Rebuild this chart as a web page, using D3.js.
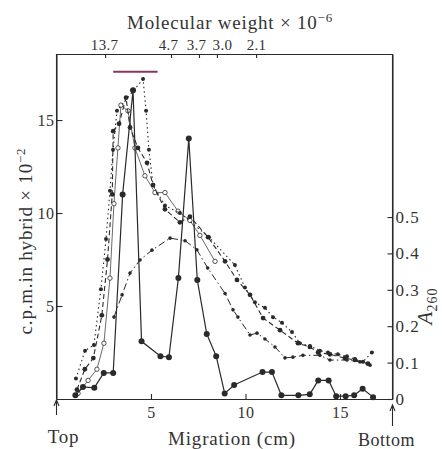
<!DOCTYPE html>
<html>
<head>
<meta charset="utf-8">
<script src="https://cdn.jsdelivr.net/npm/d3@7"></script>
<style>
  body { margin: 0; background: #fff; }
  text { font-family: "Liberation Serif", "DejaVu Serif", serif; fill: #333; }
</style>
</head>
<body>
<div id="wrapper"></div>
<script>
// migration (cm), c.p.m. in hybrid x 10^-2
const hybridSolid = [
  [1.0, 0.2], [1.4, 0.65], [2.0, 0.6], [2.5, 1.4], [3.0, 1.4], [3.5, 11.0],
  [4.05, 16.6], [4.5, 3.1], [5.5, 2.3], [5.95, 2.25], [6.45, 6.5], [7.0, 14.0],
  [7.45, 6.4], [7.95, 3.5], [8.45, 2.3], [8.9, 0.3], [9.4, 0.75], [10.9, 1.45],
  [11.4, 1.45], [11.9, 0.2], [12.8, 0.2], [13.4, 0.25], [13.85, 1.0], [14.4, 1.0],
  [14.8, 0.15], [15.3, 0.15], [15.75, 0.2], [16.2, 0.55], [16.75, 0.1]
];
const hybridDashed = [
  [1.08, 0.5], [1.5, 1.6], [1.95, 2.2], [2.4, 4.5], [2.7, 7.5], [2.95, 11.0],
  [3.0, 14.4], [3.31, 14.8], [3.68, 16.2], [3.89, 14.6], [4.31, 13.5], [4.79, 12.7],
  [5.11, 11.5], [5.74, 10.2], [6.53, 9.5], [7.06, 9.8], [8.02, 8.7], [8.92, 7.4],
  [9.55, 6.4], [10.24, 5.6], [10.93, 4.35], [11.83, 3.7], [12.78, 3.0], [13.41, 2.8],
  [13.84, 2.5], [14.47, 2.4], [15.26, 2.2], [15.79, 2.1], [16.48, 1.9]
];
const hybridDotted = [
  [1.03, 1.1], [1.51, 2.6], [1.98, 2.9], [2.35, 5.9], [2.62, 8.6], [2.83, 11.2],
  [2.99, 13.4], [3.2, 15.5], [4.58, 17.2], [4.74, 15.5], [4.89, 13.4], [5.11, 11.5],
  [5.74, 10.4], [6.53, 10.0], [8.07, 8.7], [9.44, 7.2], [9.97, 6.0], [10.5, 5.2],
  [11.03, 4.9], [11.46, 4.4], [11.93, 4.1], [12.46, 3.6], [12.88, 3.0], [13.41, 2.85],
  [13.94, 2.6], [14.37, 2.5], [14.89, 2.4], [15.37, 2.3], [15.79, 2.15], [16.22, 2.0],
  [16.69, 2.5]
];
const hybridOpen = [
  [1.14, 0.3], [1.67, 1.0], [2.14, 1.6], [2.51, 3.0], [2.83, 6.5], [3.04, 10.5],
  [3.25, 13.5], [3.41, 15.8], [3.78, 15.5], [4.15, 13.5], [4.68, 12.0], [5.21, 11.1],
  [5.74, 11.1], [6.43, 10.1], [7.06, 9.6], [7.59, 8.8], [8.39, 7.4]
];
// migration (cm), A260
const absorbance = [
  [3.04, 0.225], [3.47, 0.286], [3.89, 0.346], [4.42, 0.382], [5.05, 0.409],
  [6.01, 0.442], [6.8, 0.435], [7.43, 0.41], [8.0, 0.36], [8.92, 0.29],
  [9.34, 0.245], [9.6, 0.225], [10.24, 0.176], [10.61, 0.181], [11.03, 0.165],
  [11.56, 0.143], [12.09, 0.113], [12.51, 0.115], [13.04, 0.12], [13.94, 0.12],
  [14.47, 0.107], [15.37, 0.107], [16.06, 0.102], [16.59, 0.093]
];

const xTicks = [5, 10, 15];
const leftTicks = [5, 10, 15];
const rightTicks = [0, 0.1, 0.2, 0.3, 0.4, 0.5];
const mwPositions = [2.57, 6.06, 7.54, 8.49, 10.56];
const mwLabels = ["13.7", "4.7", "3.7", "3.0", "2.1"];
const poolRange = [3.0, 5.35];
const poolLevel = 17.6;

const dimensions = {
  width: 442,
  height: 449,
  margin: { top: 54, right: 49.5, bottom: 50, left: 56.5 },
};
dimensions.boundedWidth = dimensions.width - dimensions.margin.left - dimensions.margin.right;
dimensions.boundedHeight = dimensions.height - dimensions.margin.top - dimensions.margin.bottom;

const wrapper = d3.select("#wrapper").append("svg")
  .attr("width", dimensions.width)
  .attr("height", dimensions.height);

const bounds = wrapper.append("g")
  .attr("transform", `translate(${dimensions.margin.left},${dimensions.margin.top})`);

const xScale = d3.scaleLinear().domain([0, 17.78]).range([0, dimensions.boundedWidth]);
const yScale = d3.scaleLinear().domain([0, 18.55]).range([dimensions.boundedHeight, 0]);
const aScale = d3.scaleLinear().domain([0, 0.948]).range([dimensions.boundedHeight, 0]);

const ink = "#2a2a2a";

// axes
const styleAxis = (size, spacing) => (g) => {
  g.selectAll("path, line").attr("stroke", ink).attr("stroke-width", 1.1);
  g.selectAll("text")
    .style("font-family", '"Liberation Serif", serif')
    .attr("fill", "#333")
    .attr("font-size", size)
    .attr("letter-spacing", spacing);
};

bounds.append("g")
  .attr("transform", `translate(0,${dimensions.boundedHeight})`)
  .call(d3.axisBottom(xScale).tickValues(xTicks).tickSizeInner(-5).tickSizeOuter(0).tickPadding(8))
  .call(styleAxis(16, 0.5));

bounds.append("g")
  .call(d3.axisLeft(yScale).tickValues(leftTicks).tickSizeInner(-6).tickSizeOuter(0).tickPadding(2))
  .call(styleAxis(16, 0.5));

bounds.append("g")
  .attr("transform", `translate(${dimensions.boundedWidth},0)`)
  .call(d3.axisRight(aScale).tickValues(rightTicks).tickSizeInner(-5).tickSizeOuter(0).tickPadding(3)
    .tickFormat((d) => (d === 0 ? "0" : d3.format(".1f")(d))))
  .call(styleAxis(17, 1));

// crowded molecular-weight labels are nudged apart a little, as in print
const mwNudge = [-1, -3, -3, 5, 0];
bounds.append("g")
  .call(d3.axisTop(xScale).tickValues(mwPositions).tickSizeInner(-4).tickSizeOuter(0).tickPadding(4)
    .tickFormat((d, i) => mwLabels[i]))
  .call(styleAxis(15, 0.3))
  .call((g) => g.selectAll("text").attr("dx", (d, i) => mwNudge[i]));

// the left/right axis lines run up to the top border
bounds.append("line")
  .attr("x1", 0).attr("x2", 0).attr("y1", 0).attr("y2", dimensions.boundedHeight)
  .attr("stroke", ink).attr("stroke-width", 1.1);
bounds.append("line")
  .attr("x1", dimensions.boundedWidth).attr("x2", dimensions.boundedWidth)
  .attr("y1", 0).attr("y2", dimensions.boundedHeight)
  .attr("stroke", ink).attr("stroke-width", 1.1);

// pooled fraction bar
bounds.append("line")
  .attr("x1", xScale(poolRange[0])).attr("x2", xScale(poolRange[1]))
  .attr("y1", yScale(poolLevel)).attr("y2", yScale(poolLevel))
  .attr("stroke", "#8a3560").attr("stroke-width", 2);

// series
const lineCpm = d3.line().x((d) => xScale(d[0])).y((d) => yScale(d[1]));
const lineA = d3.line().x((d) => xScale(d[0])).y((d) => aScale(d[1]));

const drawSeries = (data, gen, yS, dash, width, r, fill) => {
  const g = bounds.append("g");
  g.append("path")
    .attr("d", gen(data))
    .attr("fill", "none")
    .attr("stroke", ink)
    .attr("stroke-width", width)
    .attr("stroke-dasharray", dash);
  g.selectAll("circle").data(data).join("circle")
    .attr("cx", (d) => xScale(d[0]))
    .attr("cy", (d) => yS(d[1]))
    .attr("r", r)
    .attr("fill", fill)
    .attr("stroke", ink)
    .attr("stroke-width", fill === "#fff" ? 0.8 : 0);
};

drawSeries(absorbance, lineA, aScale, "7,3,1.5,3", 1.0, 1.8, ink);
drawSeries(hybridOpen, lineCpm, yScale, null, 0.7, 2.2, "#fff");
drawSeries(hybridDotted, lineCpm, yScale, "1.5,3", 1.1, 2.0, ink);
drawSeries(hybridDashed, lineCpm, yScale, "5,3", 1.1, 2.4, ink);
drawSeries(hybridSolid, lineCpm, yScale, null, 1.2, 3.0, ink);

// labels
const title = wrapper.append("text")
  .attr("x", 230).attr("y", 29)
  .attr("text-anchor", "middle").attr("font-size", 19).attr("letter-spacing", 0.8)
  .text("Molecular weight × 10");
title.append("tspan").attr("dy", -7).attr("font-size", 13).text("−6");

const leftLabel = wrapper.append("text")
  .attr("transform", "translate(32,241) rotate(-90)")
  .attr("text-anchor", "middle").attr("font-size", 19).attr("letter-spacing", 0.8)
  .text("c.p.m.in hybrid × 10");
leftLabel.append("tspan").attr("dy", -7).attr("font-size", 13).text("−2");

const rightLabel = wrapper.append("text")
  .attr("transform", "translate(432,306) rotate(-90)")
  .attr("text-anchor", "middle").attr("font-size", 21);
rightLabel.append("tspan").attr("font-style", "italic").text("A");
rightLabel.append("tspan").attr("dy", 5).attr("font-size", 14).attr("letter-spacing", 1).text("260");

wrapper.append("text")
  .attr("x", 232).attr("y", 445)
  .attr("text-anchor", "middle").attr("font-size", 19).attr("letter-spacing", 0.8)
  .text("Migration (cm)");

const xs0 = dimensions.margin.left + xScale(0);
const xsEnd = dimensions.margin.left + dimensions.boundedWidth;
const base = dimensions.margin.top + dimensions.boundedHeight;

wrapper.append("text").attr("x", xs0 + 7).attr("y", 443)
  .attr("text-anchor", "middle").attr("font-size", 19).attr("letter-spacing", 0.8).text("Top");
wrapper.append("text").attr("x", xsEnd - 6).attr("y", 446)
  .attr("text-anchor", "middle").attr("font-size", 18).attr("letter-spacing", 0.5).text("Bottom");

// arrows under the axis
[[xs0, base + 1, base + 16], [xsEnd, base + 6, base + 27]].forEach(([x, y1, y2]) => {
  wrapper.append("line").attr("x1", x).attr("x2", x).attr("y1", y1).attr("y2", y2)
    .attr("stroke", ink).attr("stroke-width", 1.1);
  wrapper.append("path")
    .attr("d", `M${x - 2.5},${y1 + 6} L${x},${y1} L${x + 2.5},${y1 + 6}`)
    .attr("fill", "none").attr("stroke", ink).attr("stroke-width", 1.1);
});
</script>
</body>
</html>
